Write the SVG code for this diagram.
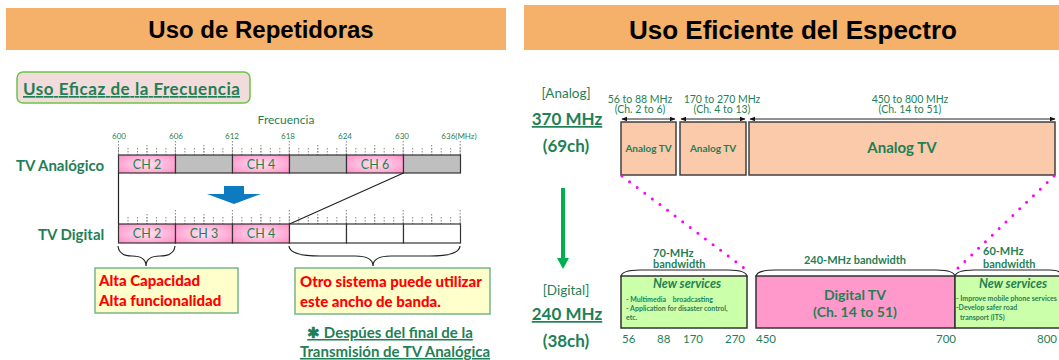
<svg xmlns="http://www.w3.org/2000/svg" width="1059" height="360" viewBox="0 0 1059 360">
<style>
.hdr{fill:#F5B06A}
.htxt{font-family:"Liberation Sans",Arial,sans-serif;font-weight:bold;fill:#000;text-anchor:middle}
.g{font-family:Lato,"Open Sans",sans-serif;fill:#1F7F55}
.b{font-weight:bold}
.c{text-anchor:middle}
.ch{stroke:#333;stroke-width:1.2;fill:url(#pk)}
.gray{stroke:#333;stroke-width:1.2;fill:#BFBFBF}
.wh{stroke:#333;stroke-width:1.2;fill:#fff}
.red{font-family:Lato,"Open Sans",sans-serif;font-weight:900;fill:#FF0000;font-size:15px}
.ybox{fill:#FFFFCC;stroke:#77B58A;stroke-width:1.5}
.tk{stroke:#888;stroke-width:1;stroke-dasharray:1.5 1.5;fill:none}
.brace{fill:none;stroke:#222;stroke-width:1.2}
.an{fill:#FBCAAA;stroke:#404040;stroke-width:1.5}
.dim{stroke:#222;stroke-width:1;marker-start:url(#ah);marker-end:url(#ah)}
.dot{stroke:#FF00FF;stroke-width:3;stroke-linecap:round;stroke-dasharray:0 9.5;fill:none}
.ns{fill:#CCFFAA;stroke:#333;stroke-width:1.5}
.pre{white-space:pre}
</style>
<defs>
<radialGradient id="pk" cx="0.5" cy="0.5" r="0.7">
<stop offset="0" stop-color="#FFE3F1"/>
<stop offset="1" stop-color="#FF8CC6"/>
</radialGradient>
<marker id="ah" viewBox="0 0 10 10" refX="9" refY="5" markerWidth="6" markerHeight="6" orient="auto-start-reverse">
<path d="M0 1L10 5L0 9z" fill="#111"/>
</marker>
<g id="ticks">
<path class="tk" d="M118.5 148V155M128 148V155M137.5 148V155M147 148V155M156.5 148V155M165.9 148V155M175.4 148V155M184.9 148V155M194.4 148V155M203.9 148V155M213.4 148V155M222.9 148V155M232.4 148V155M241.9 148V155M251.4 148V155M260.9 148V155M270.3 148V155M279.8 148V155M289.3 148V155M298.8 148V155M308.3 148V155M317.8 148V155M327.3 148V155M336.8 148V155M346.3 148V155M355.8 148V155M365.2 148V155M374.7 148V155M384.2 148V155M393.7 148V155M403.2 148V155M412.7 148V155M422.2 148V155M431.7 148V155M441.2 148V155M450.7 148V155M460.2 148V155"/>
<path class="tk" d="M147 145V155M203.9 145V155M260.9 145V155M317.8 145V155M374.7 145V155M431.7 145V155"/>
<path class="tk" d="M118.5 141V155M175.4 141V155M232.4 141V155M289.3 141V155M346.3 141V155M403.2 141V155M460.2 141V155"/>
</g>
</defs>

<g id="header-left">
<rect class="hdr" x="6" y="8" width="500" height="42"/>
<text class="htxt" x="261" y="38" font-size="24">Uso de Repetidoras</text>
</g>
<g id="header-right">
<rect class="hdr" x="524" y="5" width="535" height="45"/>
<text class="htxt" x="793" y="39" font-size="26">Uso Eficiente del Espectro</text>
</g>

<g id="subtitle">
<rect x="17" y="72" width="233" height="31" rx="6" fill="#F2DCDB" stroke="#6CC24A" stroke-width="1.5"/>
<text class="g b" x="23" y="95" font-size="17" textLength="217" text-decoration="underline">Uso Eficaz de la Frecuencia</text>
</g>

<g id="freq-axis">
<text class="g c" x="286" y="124" font-size="12">Frecuencia</text>
<g class="g c" font-size="8">
<text x="119" y="139">600</text>
<text x="176" y="139">606</text>
<text x="232" y="139">612</text>
<text x="288" y="139">618</text>
<text x="345" y="139">624</text>
<text x="402" y="139">630</text>
<text x="459" y="139">636(MHz)</text>
</g>
<use href="#ticks"/>
<use href="#ticks" y="69"/>
</g>

<g id="analog-bar">
<text class="g b" x="16" y="171" font-size="15">TV Analógico</text>
<rect class="ch" x="118.5" y="155" width="57" height="18"/>
<rect class="gray" x="175.5" y="155" width="57" height="18"/>
<rect class="ch" x="232.5" y="155" width="57" height="18"/>
<rect class="gray" x="289.5" y="155" width="57" height="18"/>
<rect class="ch" x="346.5" y="155" width="57" height="18"/>
<rect class="gray" x="403.5" y="155" width="57" height="18"/>
<g class="g c" font-size="12.5">
<text x="147" y="169">CH 2</text>
<text x="261" y="169">CH 4</text>
<text x="375" y="169">CH 6</text>
</g>
</g>

<g id="connectors-left">
<path d="M118.5 173V224" stroke="#222" stroke-width="1.2"/>
<path d="M403.5 173L289.5 224" stroke="#222" stroke-width="1.2"/>
<polygon points="224,186 244,186 244,194 261,194 234,204 207,194 224,194" fill="#0C7BC0"/>
</g>

<g id="digital-bar">
<text class="g b" x="38" y="240" font-size="15">TV Digital</text>
<rect class="ch" x="118.5" y="224" width="57" height="19"/>
<rect class="ch" x="175.5" y="224" width="57" height="19"/>
<rect class="ch" x="232.5" y="224" width="57" height="19"/>
<rect class="wh" x="289.5" y="224" width="57" height="19"/>
<rect class="wh" x="346.5" y="224" width="57" height="19"/>
<rect class="wh" x="403.5" y="224" width="57" height="19"/>
<g class="g c" font-size="12.5">
<text x="147" y="238">CH 2</text>
<text x="204" y="238">CH 3</text>
<text x="261" y="238">CH 4</text>
</g>
</g>

<g id="box-capacity">
<path class="brace" d="M118 246Q119 256 132 256Q146 256 146 266Q146 256 160 256Q174 256 175 246"/>
<rect class="ybox" x="95" y="268" width="143" height="45"/>
<text class="red" x="99" y="286">Alta Capacidad</text>
<text class="red" x="99" y="306">Alta funcionalidad</text>
</g>

<g id="box-other">
<path class="brace" d="M289 246Q290 256 320 256L355 256Q373 256 373 266Q373 256 391 256L430 256Q459 256 460 246"/>
<rect class="ybox" x="295" y="268" width="195" height="46"/>
<text class="red" x="300" y="287">Otro sistema puede utilizar</text>
<text class="red" x="300" y="307">este ancho de banda.</text>
</g>

<g id="note">
<text class="g b c" x="390" y="338" font-size="15" text-decoration="underline">✱ Despúes del final de la</text>
<text class="g b c" x="395" y="357" font-size="15" text-decoration="underline">Transmisión de TV Analógica</text>
</g>

<g id="label-analog">
<text class="g c" x="566" y="98" font-size="13.5">[Analog]</text>
<text class="g b c" x="567" y="125" font-size="17" text-decoration="underline">370 MHz</text>
<text class="g b c" x="566" y="152" font-size="17">(69ch)</text>
</g>

<g id="green-arrow">
<path d="M563 188V259" stroke="#00B050" stroke-width="4"/>
<polygon points="557,258 569,258 563,269" fill="#00B050"/>
</g>

<g id="label-digital">
<text class="g c" x="566" y="295" font-size="13.5">[Digital]</text>
<text class="g b c" x="567" y="320" font-size="17" text-decoration="underline">240 MHz</text>
<text class="g b c" x="566" y="347" font-size="17">(38ch)</text>
</g>

<g id="analog-spectrum">
<g class="g c" font-size="10.5">
<text x="640" y="103">56 to 88 MHz</text>
<text x="640" y="113">(Ch. 2 to 6)</text>
<text x="722" y="103">170 to 270 MHz</text>
<text x="722" y="113">(Ch. 4 to 13)</text>
<text x="910" y="103">450 to 800 MHz</text>
<text x="910" y="113">(Ch. 14 to 51)</text>
</g>
<line class="dim" x1="622" y1="119" x2="675" y2="119"/>
<line class="dim" x1="681" y1="119" x2="745" y2="119"/>
<line class="dim" x1="750" y1="119" x2="1055" y2="119"/>
<rect class="an" x="621" y="122" width="55" height="53"/>
<rect class="an" x="680" y="122" width="66" height="53"/>
<rect class="an" x="749" y="122" width="306" height="53"/>
<g class="g b c">
<text x="648.5" y="152" font-size="10">Analog TV</text>
<text x="713" y="152" font-size="10">Analog TV</text>
<text x="902" y="153" font-size="15">Analog TV</text>
</g>
</g>

<g id="connectors-right">
<path class="dot" d="M622 176L748 271"/>
<path class="dot" d="M1054 176L957 269"/>
</g>

<g id="digital-spectrum">
<path class="brace" d="M621 277Q621 270 640 270L728 270Q747 270 747 277"/>
<path class="brace" d="M756 277Q756 270 776 270L936 270Q955 270 955 277"/>
<path class="brace" d="M955 277Q955 270 974 270L1050 270Q1062 270 1062 277"/>
<g class="g b" font-size="11">
<text x="653" y="257">70-MHz</text>
<text x="653" y="268">bandwidth</text>
<text x="855" y="264" class="c">240-MHz bandwidth</text>
<text x="983" y="255">60-MHz</text>
<text x="983" y="268">bandwidth</text>
</g>
<rect class="ns" x="621" y="276" width="126" height="52"/>
<rect x="756" y="276" width="199" height="52" fill="#FF99CC" stroke="#333" stroke-width="1.5"/>
<rect class="ns" x="955" y="276" width="110" height="52"/>
<text class="g b c" x="687" y="288" font-size="12.5" font-style="italic">New services</text>
<g class="g b" font-size="7">
<text class="pre" x="626" y="302">- Multimedia    broadcasting</text>
<text x="626" y="311">- Application for disaster control,</text>
<text x="626" y="320">etc.</text>
</g>
<text class="g b c" x="855" y="300" font-size="14">Digital TV</text>
<text class="g b c" x="855" y="317" font-size="14">(Ch. 14 to 51)</text>
<text class="g b c" x="1013" y="288" font-size="12.5" font-style="italic">New services</text>
<g class="g b" font-size="7">
<text x="956" y="301">- Improve mobile phone services</text>
<text x="956" y="310">-Develop safer road</text>
<text x="960" y="320">transport (ITS)</text>
</g>
<g class="g" font-size="11.5">
<text x="622" y="343">56</text>
<text x="657" y="343">88</text>
<text x="683" y="343">170</text>
<text x="725" y="343">270</text>
<text x="756" y="343">450</text>
<text x="936" y="343">700</text>
<text x="1037" y="343">800</text>
</g>
</g>
</svg>
